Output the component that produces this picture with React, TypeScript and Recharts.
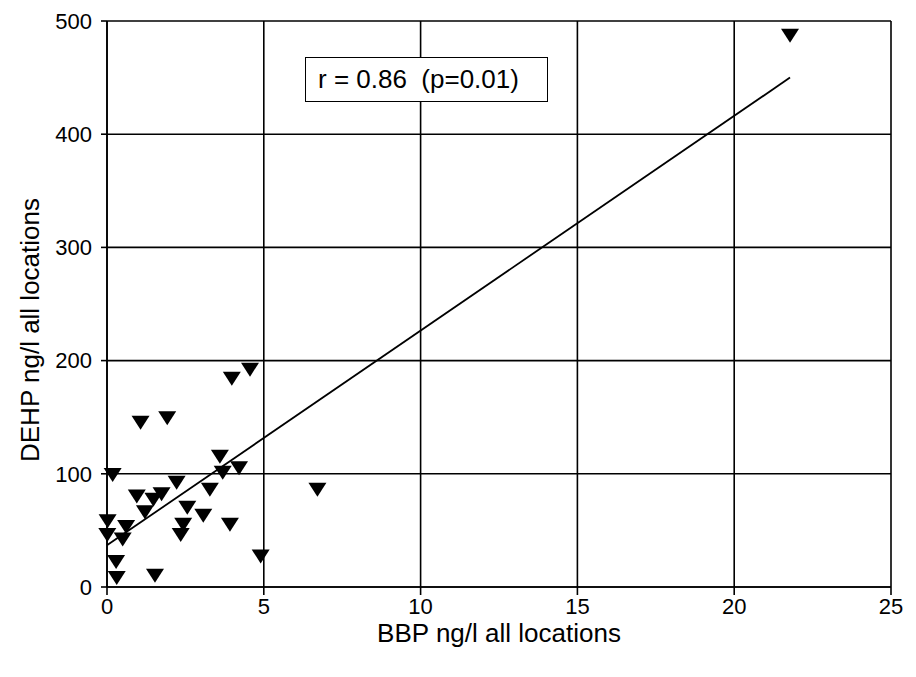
import { CartesianGrid, Scatter, ScatterChart, XAxis, YAxis } from 'recharts'

const bbp = [4.56, 3.98, 1.07, 1.92, 3.6, 3.69, 4.21, 0.18, 2.22, 0.95, 1.74, 1.48, 3.28, 1.21, 2.56, 3.07, 0.02, 0.61, 2.43, 3.92, 0.01, 2.35, 0.5, 0.29, 0.31, 1.53, 4.9, 6.71, 21.78]
const dehp = [192, 184, 145, 149, 115, 101, 105, 99, 92, 80, 82, 77, 86, 66, 70, 63, 58, 53, 55, 55, 46, 46, 42, 22, 8, 10, 27, 86, 487]

// trend line end points
const trendX = [0.01, 21.78]
const trendY = [37, 450]

const xTicks = [0, 5, 10, 15, 20, 25]
const yTicks = [0, 100, 200, 300, 400, 500]

const points = bbp.map((x, i) => ({ x, y: dehp[i] }))
const trendLine = trendX.map((x, i) => ({ x, y: trendY[i] }))

const FONT = "'Liberation Sans', Arial, sans-serif"

function DownTriangle(props: any) {
  const { cx, cy } = props
  if (cx == null || cy == null) return null
  return <path d={`M${cx - 9},${cy - 7}L${cx + 9},${cy - 7}L${cx},${cy + 7}Z`} fill="#000" />
}

function YTitle() {
  const x = 30
  const y = 330
  return (
    <text
      x={x}
      y={y}
      transform={`rotate(-90 ${x} ${y})`}
      textAnchor="middle"
      dominantBaseline="central"
      fontFamily={FONT}
      fontSize={26}
      fill="#000"
    >
      DEHP ng/l all locations
    </text>
  )
}

function XTitle(props: any) {
  const { viewBox } = props
  const x = viewBox.x + viewBox.width / 2
  return (
    <text x={x} y={642} textAnchor="middle" fontFamily={FONT} fontSize={26} fill="#000">
      BBP ng/l all locations
    </text>
  )
}

export default function App() {
  return (
    <div style={{ position: 'absolute', left: 0, top: 0, width: 916, height: 677, background: '#fff' }}>
      <ScatterChart width={916} height={677} margin={{ top: 21, right: 25, bottom: 0, left: 0 }}>
        <CartesianGrid stroke="#000" strokeWidth={1.6} />
        <XAxis
          type="number"
          dataKey="x"
          domain={[0, 25]}
          ticks={xTicks}
          height={90}
          tickSize={8}
          tickMargin={3}
          axisLine={{ stroke: '#000', strokeWidth: 1.6 }}
          tickLine={{ stroke: '#000', strokeWidth: 1.6 }}
          tick={{ fill: '#000', fontSize: 22, fontFamily: FONT }}
          label={<XTitle />}
        />
        <YAxis
          type="number"
          dataKey="y"
          domain={[0, 500]}
          ticks={yTicks}
          width={107}
          tickSize={6}
          tickMargin={9}
          axisLine={{ stroke: '#000', strokeWidth: 1.6 }}
          tickLine={{ stroke: '#000', strokeWidth: 1.6 }}
          tick={{ fill: '#000', fontSize: 22, fontFamily: FONT }}
          label={<YTitle />}
        />
        <Scatter
          data={trendLine}
          line={{ stroke: '#000', strokeWidth: 1.8 }}
          shape={() => null}
          isAnimationActive={false}
        />
        <Scatter data={points} shape={<DownTriangle />} isAnimationActive={false} />
      </ScatterChart>
      <div
        style={{
          position: 'absolute',
          left: 305,
          top: 57,
          width: 243,
          height: 45,
          boxSizing: 'border-box',
          border: '1.6px solid #000',
          background: '#fff',
          fontFamily: FONT,
          fontSize: 26,
          whiteSpace: 'pre',
          lineHeight: '42px',
          paddingLeft: 12,
          color: '#000',
        }}
      >
        r = 0.86  (p=0.01)
      </div>
    </div>
  )
}
